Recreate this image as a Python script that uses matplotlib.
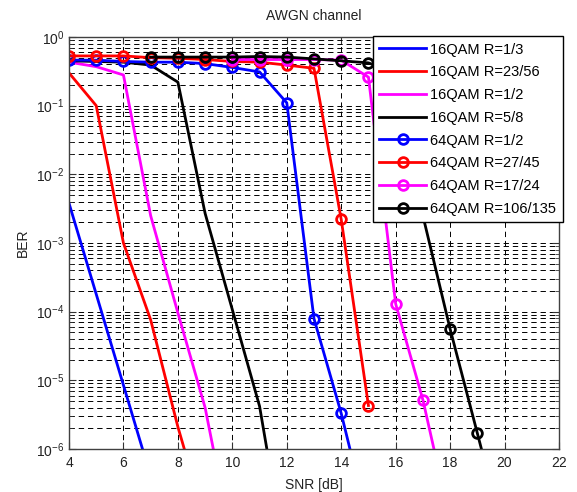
import matplotlib
matplotlib.use("Agg")
import matplotlib.pyplot as plt
from matplotlib.ticker import LogLocator, NullFormatter

plt.rcParams['font.family'] = ['Liberation Sans', 'DejaVu Sans']
plt.rcParams['mathtext.fontset'] = 'custom'
plt.rcParams['mathtext.rm'] = 'Liberation Sans'

# ---- data ----
snr_16_r13 = [4, 5, 6, 7]
ber_16_r13 = [3.8e-3, 1.8e-4, 8.5e-6, 4e-7]

snr_16_r2356 = [4, 5, 6, 7, 8, 9]
ber_16_r2356 = [0.30, 0.10, 1.0e-3, 7.6e-5, 2.1e-6, 9e-8]

snr_16_r12 = [4, 5, 6, 7, 8, 9, 10]
ber_16_r12 = [0.43, 0.37, 0.28, 2.5e-3, 9.6e-5, 4e-6, 4e-8]

snr_16_r58 = [4, 5, 6, 7, 8, 9, 10, 11, 12]
ber_16_r58 = [0.45, 0.44, 0.43, 0.39, 0.22, 2.7e-3, 1.07e-4, 4.2e-6, 2e-8]

snr_64_r12 = [4, 5, 6, 7, 8, 9, 10, 11, 12, 13, 14, 15]
ber_64_r12 = [0.46, 0.46, 0.44, 0.43, 0.43, 0.41, 0.36, 0.31, 0.11, 7.9e-5, 3.3e-6, 8e-8]

snr_64_r2745 = [4, 5, 6, 7, 8, 9, 10, 11, 12, 13, 14, 15]
ber_64_r2745 = [0.53, 0.53, 0.53, 0.50, 0.49, 0.47, 0.44, 0.43, 0.39, 0.35, 2.2e-3, 4.3e-6]

snr_64_r1724 = [10, 11, 12, 13, 14, 15, 16, 17, 18]
ber_64_r1724 = [0.47, 0.47, 0.47, 0.47, 0.46, 0.26, 1.3e-4, 5.2e-6, 9e-8]

snr_64_r106135 = [7, 8, 9, 10, 11, 12, 13, 14, 15, 16, 17, 18, 19, 20]
ber_64_r106135 = [0.51, 0.51, 0.51, 0.51, 0.52, 0.51, 0.48, 0.45, 0.42, 0.30, 2.5e-3, 5.6e-5, 1.7e-6, 5e-8]

labels = ['16QAM R=1/3', '16QAM R=23/56', '16QAM R=1/2', '16QAM R=5/8',
          '64QAM R=1/2', '64QAM R=27/45', '64QAM R=17/24', '64QAM R=106/135']

x_ticks = [4, 6, 8, 10, 12, 14, 16, 18, 20, 22]

# ---- figure ----
fig = plt.figure(figsize=(5.77, 4.92), dpi=100)
ax = fig.add_axes([69/577, 1-449/492, (559-69)/577, (449-37)/492])

lw = 2.0
ax.plot(snr_16_r13, ber_16_r13, color='#0000ff', lw=lw, label=labels[0])
ax.plot(snr_16_r2356, ber_16_r2356, color='#ff0000', lw=lw, label=labels[1])
ax.plot(snr_16_r12, ber_16_r12, color='#ff00ff', lw=lw, label=labels[2])
ax.plot(snr_16_r58, ber_16_r58, color='#000000', lw=lw, label=labels[3])
mk = dict(marker='o', ms=7, mew=2, mfc='none', lw=lw)
ax.plot(snr_64_r12, ber_64_r12, color='#0000ff', label=labels[4], **mk)
ax.plot(snr_64_r2745, ber_64_r2745, color='#ff0000', label=labels[5], **mk)
ax.plot(snr_64_r1724, ber_64_r1724, color='#ff00ff', label=labels[6], **mk)
ax.plot(snr_64_r106135, ber_64_r106135, color='#000000', label=labels[7], **mk)

ax.set_yscale('log')
ax.set_xlim(4, 22)
ax.set_ylim(1e-6, 1)
ax.set_xticks(x_ticks)
ax.yaxis.set_major_locator(LogLocator(base=10, numticks=10))
ax.yaxis.set_minor_locator(LogLocator(base=10, subs=range(2, 10), numticks=20))
ax.yaxis.set_minor_formatter(NullFormatter())

gstyle = dict(color='black', linestyle=(0, (5.5, 4)), linewidth=0.7)
ax.grid(True, which='major', axis='both', **gstyle)
ax.grid(True, which='minor', axis='y', **gstyle)

ax.tick_params(which='both', direction='in', top=True, right=True,
               labelsize=10, colors='#333333', labelcolor='#222222')
ax.tick_params(which='major', length=5)
ax.tick_params(which='minor', length=3)
ax.tick_params(axis='x', which='major', pad=5)
for s in ax.spines.values():
    s.set_color('#404040')
    s.set_linewidth(1.0)

ax.set_title('AWGN channel', fontsize=10, color='#222222', pad=12)
ax.set_xlabel('SNR [dB]', fontsize=10, color='#222222', labelpad=6)
ax.set_ylabel('BER', fontsize=10, color='#222222', labelpad=4)

leg = ax.legend(loc='upper right', bbox_to_anchor=(563/577, 1-36/492),
                bbox_transform=fig.transFigure, fontsize=10.5,
                fancybox=False, framealpha=1, edgecolor='black',
                handlelength=3.2, handletextpad=0.3, labelspacing=0.6,
                borderpad=0.45, borderaxespad=0)
leg.get_frame().set_linewidth(1.0)

fig.savefig('out.png', dpi=100)
